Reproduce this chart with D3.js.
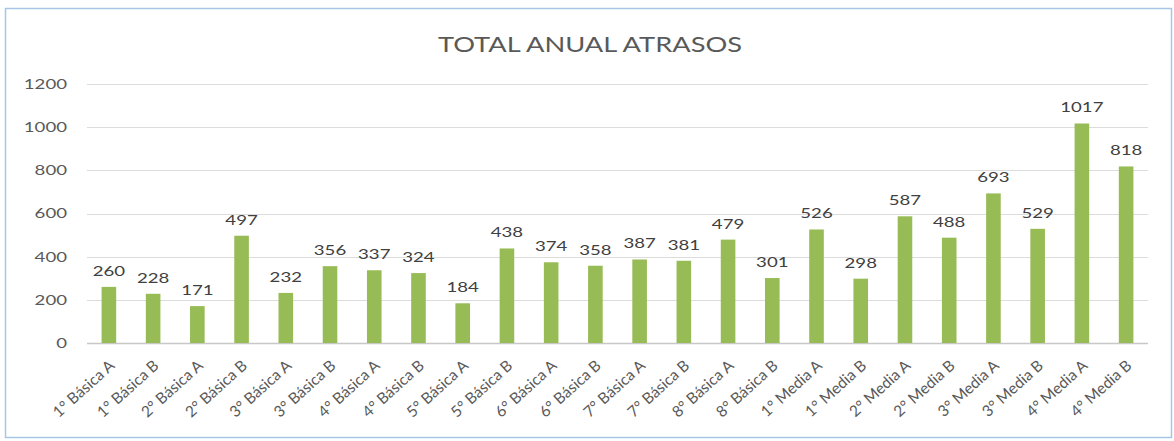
<!DOCTYPE html>
<html>
<head>
<meta charset="utf-8">
<script src="https://cdn.jsdelivr.net/npm/d3@7"></script>
<style>
  body { margin: 0; background: #fff; }
  svg { display: block; font-family: Lato, "Open Sans", sans-serif; }
</style>
</head>
<body>
<script>
const categories = [
  '1° Básica A', '1° Básica B', '2° Básica A', '2° Básica B', '3° Básica A', '3° Básica B',
  '4° Básica A', '4° Básica B', '5° Básica A', '5° Básica B', '6° Básica A', '6° Básica B',
  '7° Básica A', '7° Básica B', '8° Básica A', '8° Básica B', '1° Media A', '1° Media B',
  '2° Media A', '2° Media B', '3° Media A', '3° Media B', '4° Media A', '4° Media B'
];
const atrasos = [260, 228, 171, 497, 232, 356, 337, 324, 184, 438, 374, 358,
  387, 381, 479, 301, 526, 298, 587, 488, 693, 529, 1017, 818];
const yTicks = [0, 200, 400, 600, 800, 1000, 1200];

const width = 1174, height = 441;
// the source picture is stretched sideways, so draw in a narrower space and widen it
const stretch = 1.33;
const plotLeft = 87, plotRight = 1148, plotTop = 84, plotBottom = 343;

const svg = d3.select('body').append('svg')
  .attr('width', width)
  .attr('height', height);

// chart frame
svg.append('rect')
  .attr('x', 5.5).attr('y', 8.5)
  .attr('width', 1166).attr('height', 429)
  .attr('fill', '#fff')
  .attr('stroke', '#a7c6e6')
  .attr('stroke-width', 1.5);

const g = svg.append('g')
  .attr('transform', `scale(${stretch},1)`);

const x = d3.scaleBand()
  .domain(categories)
  .range([plotLeft / stretch, plotRight / stretch])
  .paddingInner(0.67)
  .paddingOuter(0.33);

const y = d3.scaleLinear()
  .domain([0, 1200])
  .range([plotBottom, plotTop]);

// gridlines
g.append('g')
  .selectAll('line')
  .data(yTicks)
  .join('line')
  .attr('x1', plotLeft / stretch)
  .attr('x2', plotRight / stretch)
  .attr('y1', d => Math.round(y(d)) + 0.5)
  .attr('y2', d => Math.round(y(d)) + 0.5)
  .attr('stroke', d => d === 0 ? '#c8c8c8' : '#dcdcdc')
  .attr('stroke-width', d => d === 0 ? 1.5 : 1);

// y axis labels
g.append('g')
  .selectAll('text')
  .data(yTicks)
  .join('text')
  .attr('x', 67 / stretch)
  .attr('y', d => y(d))
  .attr('dy', '0.35em')
  .attr('text-anchor', 'end')
  .attr('font-size', 14)
  .attr('fill', '#595959')
  .text(d => d);

// bars
g.append('g')
  .selectAll('rect')
  .data(atrasos)
  .join('rect')
  .attr('x', (d, i) => x(categories[i]))
  .attr('y', d => y(d))
  .attr('width', x.bandwidth())
  .attr('height', d => y(0) - y(d))
  .attr('fill', '#97bc55');

// value labels
g.append('g')
  .selectAll('text')
  .data(atrasos)
  .join('text')
  .attr('x', (d, i) => x(categories[i]) + x.bandwidth() / 2)
  .attr('y', d => y(d) - 11)
  .attr('text-anchor', 'middle')
  .attr('font-size', 14)
  .attr('fill', '#404040')
  .text(d => d);

// category labels, rotated (drawn unstretched so the glyphs keep their shape)
svg.append('g')
  .selectAll('text')
  .data(categories)
  .join('text')
  .attr('transform', d => `translate(${(x(d) + x.bandwidth() / 2) * stretch + 3},${y(0) + 20}) rotate(-42)`)
  .attr('text-anchor', 'end')
  .attr('dy', '0.35em')
  .attr('font-size', 15.5)
  .attr('fill', '#595959')
  .text(d => d);

// title
g.append('text')
  .attr('x', 590 / stretch)
  .attr('y', 52)
  .attr('text-anchor', 'middle')
  .attr('font-size', 20.5)
  .attr('fill', '#595959')
  .text('TOTAL ANUAL ATRASOS');
</script>
</body>
</html>
